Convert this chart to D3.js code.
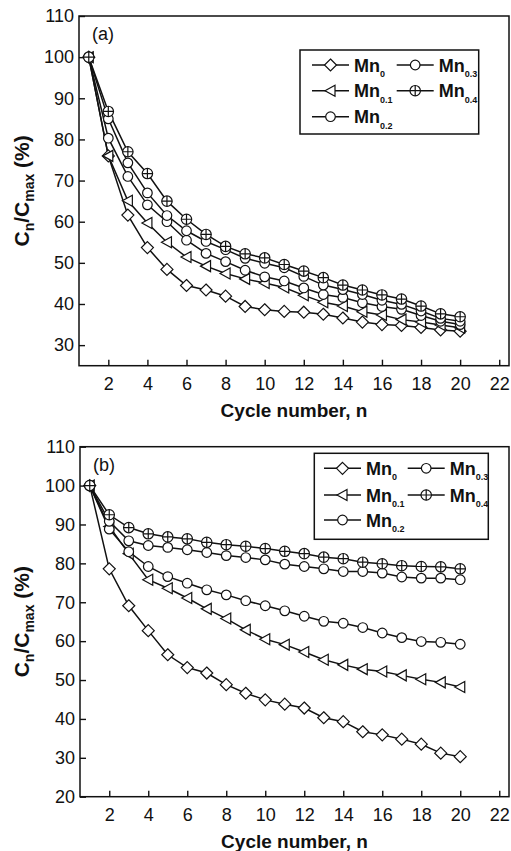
<!DOCTYPE html>
<html lang="en">
<head>
    <meta charset="utf-8">
    <title>Cycle retention</title>
    <script src="https://cdn.jsdelivr.net/npm/d3@7"></script>
    <style>
        body { margin: 0; background: #fff; }
        svg { display: block; font-family: "Liberation Sans", Arial, sans-serif; }
    </style>
</head>
<body>
<div id="chart"></div>
<script>

// cycle numbers on the x axis
var cycles = [1, 2, 3, 4, 5, 6, 7, 8, 9, 10, 11, 12, 13, 14, 15, 16, 17, 18, 19, 20];

// legend names and subscripts
var seriesNames = ["Mn0", "Mn0.1", "Mn0.2", "Mn0.3", "Mn0.4"];
var seriesSubs = ["0", "0.1", "0.2", "0.3", "0.4"];
var markerTypes = ["diamond", "triangle", "circle", "circle", "crosscircle"];

// panel (a) values, Cn/Cmax (%)
var aMn0  = [100, 76.0, 61.6, 53.7, 48.4, 44.5, 43.4, 41.9, 39.4, 38.6, 38.2, 38.0, 37.5, 36.6, 35.6, 35.0, 34.8, 34.3, 33.7, 33.4];
var aMn01 = [100, 76.0, 65.1, 59.7, 55.0, 51.4, 49.2, 47.4, 46.1, 45.1, 44.0, 42.1, 40.4, 39.5, 38.1, 37.3, 36.2, 35.6, 34.9, 34.2];
var aMn02 = [100, 80.3, 71.0, 64.1, 60.0, 55.5, 52.3, 50.3, 48.2, 46.6, 45.6, 43.9, 42.3, 41.6, 40.3, 39.4, 38.7, 37.2, 35.8, 35.0];
var aMn03 = [100, 85.0, 74.3, 67.0, 61.5, 57.8, 55.2, 53.2, 51.1, 49.9, 48.8, 46.7, 44.6, 43.5, 42.3, 40.9, 39.9, 38.3, 36.5, 35.8];
var aMn04 = [100, 86.8, 77.0, 71.7, 65.0, 60.6, 56.9, 54.0, 52.2, 51.2, 49.6, 48.0, 46.4, 44.6, 43.4, 42.2, 41.2, 39.5, 37.6, 36.9];

// panel (b) values, Cn/Cmax (%)
var bMn0  = [100, 78.6, 69.1, 62.7, 56.5, 53.2, 51.8, 48.8, 46.6, 44.9, 43.8, 42.8, 40.3, 39.3, 36.7, 35.9, 34.8, 33.5, 31.2, 30.3];
var bMn01 = [100, 89.5, 82.5, 75.8, 73.6, 71.1, 68.3, 65.8, 62.9, 60.5, 59.1, 57.2, 55.2, 53.9, 52.8, 52.2, 51.2, 50.2, 49.4, 48.2];
var bMn02 = [100, 88.8, 83.0, 79.2, 76.6, 74.9, 73.2, 71.9, 70.4, 69.1, 67.8, 66.4, 65.1, 64.6, 63.5, 62.1, 60.9, 59.9, 59.7, 59.2];
var bMn03 = [100, 90.8, 85.8, 84.6, 84.1, 83.5, 82.8, 82.0, 81.5, 80.9, 79.8, 79.2, 78.6, 77.9, 77.9, 77.5, 76.5, 76.2, 76.2, 75.8];
var bMn04 = [100, 92.5, 89.2, 87.6, 86.8, 86.3, 85.4, 84.8, 84.4, 83.8, 83.1, 82.5, 81.6, 81.2, 80.3, 79.9, 79.4, 79.2, 79.1, 78.6];

// tick labels
var xTicks = [2, 4, 6, 8, 10, 12, 14, 16, 18, 20, 22];
var yTicksA = [30, 40, 50, 60, 70, 80, 90, 100, 110];
var yTicksB = [20, 30, 40, 50, 60, 70, 80, 90, 100, 110];

var W = 511, H = 851;

var svg = d3.select("#chart")
  .append("svg")
    .attr("width", W)
    .attr("height", H);

svg.append("rect").attr("width", W).attr("height", H).attr("fill", "#fff");

// panel layout
var panels = [
  { tag: "(a)", left: 79, right: 509, top: 16, bottom: 365.7, yDomain: [25, 110], yTicks: yTicksA,
    series: [aMn0, aMn01, aMn02, aMn03, aMn04],
    legend: { x: 300, y: 50, w: 178.7, h: 84, rows: [65, 90.7, 116.7], cols: [312, 396.7] } },
  { tag: "(b)", left: 80, right: 509, top: 446.7, bottom: 796.7, yDomain: [20, 110], yTicks: yTicksB,
    series: [bMn0, bMn01, bMn02, bMn03, bMn04],
    legend: { x: 314.3, y: 453.3, w: 174, h: 86, rows: [468.3, 495, 520], cols: [324, 407.7] } }
];

// draws one open marker centred on (cx, cy)
function drawMarker(g, type, cx, cy) {
  var m = g.append("g").attr("transform", "translate(" + cx + "," + cy + ")")
    .attr("fill", "#fff").attr("stroke", "#111").attr("stroke-width", 1.2);
  if (type === "diamond") {
    m.append("path").attr("d", "M0,-6L6,0L0,6L-6,0Z");
  } else if (type === "triangle") {
    m.append("path").attr("d", "M-5.5,0L4.5,-5.5L4.5,5.5Z");
  } else if (type === "circle") {
    m.append("circle").attr("r", 4.8);
  } else {
    m.append("circle").attr("r", 5.2);
    m.append("path").attr("fill", "none").attr("d", "M-5.2,0H5.2M0,-5.2V5.2");
  }
}

panels.forEach(function(p) {

  var x = d3.scaleLinear().domain([0.5, 22.5]).range([p.left, p.right]);
  var y = d3.scaleLinear().domain(p.yDomain).range([p.bottom, p.top]);

  var g = svg.append("g");

  // Add X axis, ticks pointing inside
  var xa = g.append("g")
    .attr("transform", "translate(0," + p.bottom + ")")
    .call(d3.axisBottom(x).tickValues(xTicks).tickSizeInner(-6).tickSizeOuter(0).tickPadding(12));

  // Add Y axis
  var ya = g.append("g")
    .attr("transform", "translate(" + p.left + ",0)")
    .call(d3.axisLeft(y).tickValues(p.yTicks).tickSizeInner(-6).tickSizeOuter(0).tickPadding(5));

  [xa, ya].forEach(function(a) {
    a.select(".domain").remove();
    a.selectAll("line").attr("stroke", "#111").attr("stroke-width", 1.4);
    a.selectAll("text").attr("font-size", 18).attr("fill", "#111")
      .attr("font-family", "Liberation Sans, Arial, sans-serif");
  });

  // frame
  g.append("rect")
    .attr("x", p.left).attr("y", p.top)
    .attr("width", p.right - p.left).attr("height", p.bottom - p.top)
    .attr("fill", "none").attr("stroke", "#111").attr("stroke-width", 1.5);

  // axis titles
  g.append("text")
    .attr("x", (p.left + p.right) / 2).attr("y", p.bottom + 51)
    .attr("text-anchor", "middle").attr("font-size", 19).attr("font-weight", "bold").attr("fill", "#111")
    .text("Cycle number, n");

  var yt = g.append("text")
    .attr("transform", "translate(29," + ((p.top + p.bottom) / 2) + ") rotate(-90)")
    .attr("text-anchor", "middle").attr("font-size", 21).attr("font-weight", "bold").attr("fill", "#111");
  yt.append("tspan").text("C");
  yt.append("tspan").attr("font-size", 14).attr("dy", 5).text("n");
  yt.append("tspan").attr("dy", -5).text("/C");
  yt.append("tspan").attr("font-size", 14).attr("dy", 5).text("max");
  yt.append("tspan").attr("dy", -5).text(" (%)");

  // panel tag
  g.append("text")
    .attr("x", p.left + 13).attr("y", p.top + 24)
    .attr("font-size", 18).attr("fill", "#111")
    .text(p.tag);

  // Add the lines
  var line = d3.line()
    .x(function(d, i) { return x(cycles[i]); })
    .y(function(d) { return y(d); });

  p.series.forEach(function(s) {
    g.append("path")
      .datum(s)
      .attr("fill", "none")
      .attr("stroke", "#111")
      .attr("stroke-width", 1.5)
      .attr("d", line);
  });

  // markers
  p.series.forEach(function(s, k) {
    s.forEach(function(v, i) {
      drawMarker(g, markerTypes[k], x(cycles[i]), y(v));
    });
  });

  // legend
  var L = p.legend;
  g.append("rect")
    .attr("x", L.x).attr("y", L.y).attr("width", L.w).attr("height", L.h)
    .attr("fill", "#fff").attr("stroke", "#111").attr("stroke-width", 1.5);

  seriesNames.forEach(function(name, k) {
    var col = k < 3 ? 0 : 1;
    var row = k < 3 ? k : k - 3;
    var lx = L.cols[col], ly = L.rows[row];
    g.append("line")
      .attr("x1", lx).attr("x2", lx + 37).attr("y1", ly).attr("y2", ly)
      .attr("stroke", "#111").attr("stroke-width", 1.5);
    drawMarker(g, markerTypes[k], lx + 18.5, ly);
    var t = g.append("text")
      .attr("x", lx + 42).attr("y", ly + 6.5)
      .attr("font-size", 18).attr("font-weight", "bold").attr("fill", "#111");
    t.append("tspan").text("Mn");
    t.append("tspan").attr("font-size", 9).attr("dy", 5.5).text(seriesSubs[k]);
  });
});

</script>
</body>
</html>
